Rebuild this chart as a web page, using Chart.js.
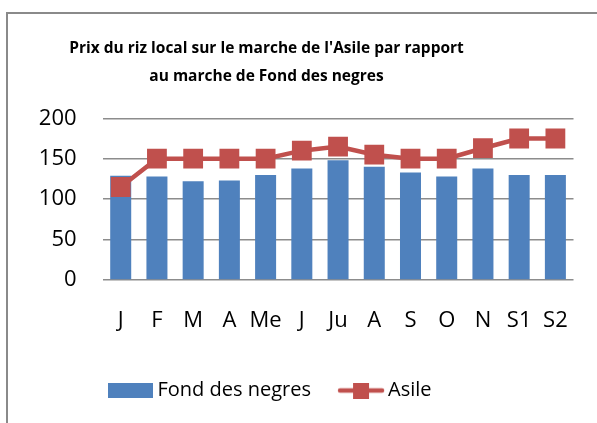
<!DOCTYPE html>
<html><head><meta charset="utf-8">
<script src="https://cdn.jsdelivr.net/npm/chart.js@4"></script>
<style>
html,body{margin:0;padding:0;background:#fff;}
#wrap{position:relative;width:597px;height:423px;overflow:hidden;}
#c{position:absolute;left:0;top:0;}
#frame{position:absolute;left:6px;top:12px;width:620px;height:440px;border-left:2px solid #8a8a8a;border-top:2px solid #8a8a8a;pointer-events:none;}
</style></head><body>
<div id="wrap"><canvas id="c" width="597" height="423"></canvas><div id="frame"></div></div>
<script>
const titleLines = ["Prix du riz local sur le marche de l'Asile par rapport", "au marche de Fond des negres"];
const categories = ['J','F','M','A','Me','J','Ju','A','S','O','N','S1','S2'];
const fondDesNegres = [129,128,122,123,130,138,148,140,133,128,138,130,130];
const asile = [115,150,150,150,150,160,165,155,150,150,163,175,175];
const yTicks = [0,50,100,150,200];

const BLUE = '#4F81BD', RED = '#C0504D';

function barIcon(){
  const c = document.createElement('canvas'); c.width = 45; c.height = 15;
  const g = c.getContext('2d'); g.fillStyle = BLUE; g.fillRect(0,0,45,15); return c;
}
function lineIcon(){
  const c = document.createElement('canvas'); c.width = 48; c.height = 16;
  const g = c.getContext('2d');
  g.strokeStyle = RED; g.lineWidth = 4.5; g.lineCap = 'round';
  g.beginPath(); g.moveTo(3,8); g.lineTo(45,8); g.stroke();
  g.fillStyle = RED; g.fillRect(16,0,16,16); return c;
}
const icons = [barIcon(), lineIcon()];

const layoutFix = {
  id: 'layoutFix',
  beforeDraw(chart){
    if (chart.titleBlock){ chart.titleBlock.left = 0; chart.titleBlock.right = 533; }
    if (chart.legend){
      const h = chart.legend.height;
      chart.legend.left = 80.5; chart.legend.right = 597;
      chart.legend.top = 347.5; chart.legend.bottom = 347.5 + h;
    }
  }
};

new Chart(document.getElementById('c'), {
  data: {
    labels: categories,
    datasets: [
      { type: 'line', label: 'Asile', data: asile, order: 0,
        borderColor: RED, backgroundColor: RED, borderWidth: 4.5,
        pointStyle: 'rect', pointRadius: 14, pointHoverRadius: 14,
        pointBackgroundColor: RED, pointBorderColor: RED, pointBorderWidth: 0,
        tension: 0, fill: false },
      { type: 'bar', label: 'Fond des negres', data: fondDesNegres, order: 1,
        backgroundColor: BLUE, borderWidth: 0,
        barPercentage: 0.58, categoryPercentage: 1.0 }
    ]
  },
  options: {
    responsive: false, animation: false, devicePixelRatio: 1,
    layout: { padding: { left: 0, right: 23.5, top: 0, bottom: 0 } },
    plugins: {
      tooltip: { enabled: false },
      title: {
        display: true, text: titleLines, color: '#000',
        font: { family: '"Open Sans"', size: 15.5, weight: 'bold', lineHeight: 28.3/15.5 },
        padding: { top: 34, bottom: 27.7 }
      },
      legend: {
        display: true, position: 'bottom', align: 'start',
        labels: {
          color: '#000', font: { family: '"Open Sans"', size: 20 },
          usePointStyle: true, pointStyleWidth: 34, padding: 33,
          generateLabels(chart){
            return [
              { text: 'Fond des negres', pointStyle: icons[0], fillStyle: BLUE, strokeStyle: BLUE, lineWidth: 0, datasetIndex: 1, hidden: false, fontColor: '#000' },
              { text: 'Asile', pointStyle: icons[1], fillStyle: RED, strokeStyle: RED, lineWidth: 0, datasetIndex: 0, hidden: false, fontColor: '#000' }
            ];
          }
        }
      }
    },
    scales: {
      x: {
        grid: { display: false, drawTicks: false }, border: { display: false },
        ticks: { color: '#000', font: { family: '"Open Sans"', size: 22 }, padding: 28, maxRotation: 0, autoSkip: false },
        afterFit(s){ const lh = s.chart.legend ? s.chart.legend.height : 0; s.height = 423 - 280 - lh; }
      },
      y: {
        min: 0, max: 200,
        afterBuildTicks(s){ s.ticks = yTicks.map(v => ({ value: v })); },
        grid: { color: '#8c8c8c', lineWidth: 1.5, drawTicks: false }, border: { display: false },
        ticks: { color: '#000', font: { family: '"Open Sans"', size: 22 }, padding: 26 },
        afterFit(s){ s.width = 102.6; }
      }
    }
  },
  plugins: [layoutFix]
});
</script></body></html>
